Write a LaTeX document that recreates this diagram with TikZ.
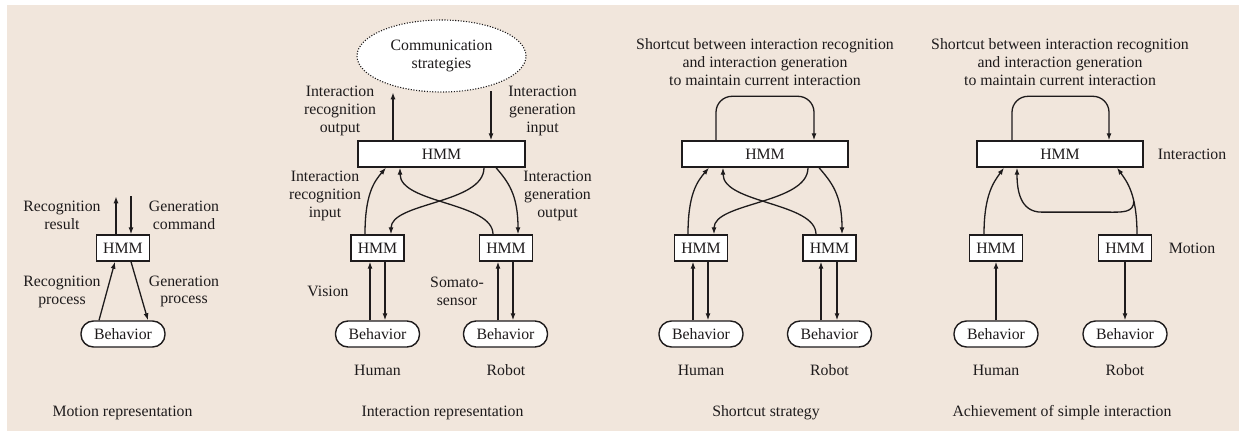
\documentclass[tikz,border=0pt]{standalone}
\usepackage{fontspec}
\setmainfont{Liberation Serif}
\usetikzlibrary{calc,arrows.meta,shapes.geometric}
\definecolor{bgc}{RGB}{241,230,220}
\definecolor{ink}{RGB}{30,27,28}
\begin{document}
\begin{tikzpicture}[x=1pt,y=-1pt,
  every node/.style={text=ink, font=\fontsize{15.8}{17.8}\selectfont},
  box/.style={draw=ink, fill=white, line width=1.4pt, minimum height=26pt, inner sep=0pt},
  hmm/.style={box, minimum width=53pt},
  bighmm/.style={box, minimum width=166pt},
  beh/.style={draw=ink, fill=white, line width=1.4pt, rounded corners=12.5pt, minimum width=84pt, minimum height=26pt, inner sep=0pt},
  lbl/.style={align=center, inner sep=0pt},
  arr/.style={draw=ink, line width=1.3pt, -{Latex[length=7pt,width=5pt]}},
  ln/.style={draw=ink, line width=1.3pt}]
\useasboundingbox (0,0) rectangle (1239,431);
\fill[bgc] (7,5) rectangle (1239,431);

% ---------------- Panel 1: Motion representation
\node[hmm] (h1) at (123,248) {HMM};
\node[beh] (b1) at (123,334) {Behavior};
\coordinate (t1a) at ($(h1.north)+(-7,-38)$);
\coordinate (t1b) at ($(h1.north)+(8,-38)$);
\draw[arr] ($(h1.north)+(-7,0)$) -- (t1a);
\draw[arr] (t1b) -- ($(h1.north)+(8,0)$);
\draw[arr] ($(b1.north)+(-24,0)$) -- ($(h1.south)+(-8,0)$);
\draw[arr] ($(h1.south)+(8,0)$) -- ($(b1.north)+(25,0)$);
\node[lbl] (l1a) at (62,215.5) {Recognition\\result};
\node[lbl] (l1b) at (184,215.5) {Generation\\command};
\node[lbl] (l1c) at (62,292) {Recognition\\process};
\node[lbl] (l1d) at (184,291.5) {Generation\\process};
\node[lbl] (c1) at (122.5,413) {Motion representation};

% ---------------- Panel 2: Interaction representation
\node[ellipse, draw=ink, fill=white, line width=1.1pt, dash pattern=on 1.1pt off 1.6pt,
      minimum width=169pt, minimum height=72pt, inner sep=0pt, align=center]
      (e2) at (441.5,56) {Communication\\strategies};
\node[bighmm, minimum width=167pt] (H2) at (441.5,154) {HMM};
\node[hmm] (hl2) at (377.5,248) {HMM};
\node[hmm] (hr2) at (506,248) {HMM};
\node[beh] (bl2) at (377.5,334) {Behavior};
\node[beh] (br2) at (505.5,334) {Behavior};
\coordinate (o2a) at ($(H2.north)+(-48.5,-48)$);
\coordinate (o2b) at ($(H2.north)+(49.5,-49)$);
\draw[arr] ($(H2.north)+(-48.5,0)$) -- (o2a);
\draw[arr] (o2b) -- ($(H2.north)+(49.5,0)$);
% curves
\draw[arr] ($(hl2.north)+(-12.5,0)$) .. controls +(0,-40) and +(-12,14) .. ($(H2.south)+(-55.5,0)$);
\draw[arr] ($(hr2.north)+(-13,0)$) .. controls +(0,-32) and +(0,36) .. ($(H2.south)+(-41.5,0)$);
\draw[arr] ($(H2.south)+(42.5,0)$) .. controls +(0,36) and +(0,-32) .. ($(hl2.north)+(13.5,0)$);
\draw[arr] ($(H2.south)+(54.5,0)$) .. controls +(12,14) and +(0,-40) .. ($(hr2.north)+(12,0)$);
% verticals
\draw[arr] ($(bl2.north)+(-7.5,0)$) -- ($(hl2.south)+(-7.5,0)$);
\draw[arr] ($(hl2.south)+(7.5,0)$) -- ($(bl2.north)+(7.5,0)$);
\draw[arr] ($(br2.north)+(-7.5,0)$) -- ($(hr2.south)+(-8,0)$);
\draw[arr] ($(hr2.south)+(7,0)$) -- ($(br2.north)+(7.5,0)$);
\node[lbl] (l2a) at (340,111) {Interaction\\recognition\\output};
\node[lbl] (l2b) at (542.5,111) {Interaction\\generation\\input};
\node[lbl] (l2c) at (325,196) {Interaction\\recognition\\input};
\node[lbl] (l2d) at (557.5,196) {Interaction\\generation\\output};
\node[lbl] (l2e) at (328,291) {Vision};
\node[lbl] (l2f) at (457,291) {Somato-\\sensor};
\node[lbl] (l2g) at (377.5,370) {Human};
\node[lbl] (l2h) at (506,370) {Robot};
\node[lbl] (c2) at (442.5,413) {Interaction representation};

% ---------------- Panel 3: Shortcut strategy
\node[lbl] (l3a) at (765,62) {Shortcut between interaction recognition\\and interaction generation\\to maintain current interaction};
\node[bighmm] (H3) at (765,154) {HMM};
\node[hmm] (hl3) at (701,248) {HMM};
\node[hmm] (hr3) at (829.5,248) {HMM};
\node[beh] (bl3) at (701,334) {Behavior};
\node[beh] (br3) at (829.5,334) {Behavior};
\draw[arr, rounded corners=16pt] ($(H3.north)+(-49,0)$) -- ($(H3.north)+(-49,-44)$) -- ($(H3.north)+(49,-44)$) -- ($(H3.north)+(49,0)$);
\draw[arr] ($(hl3.north)+(-13,0)$) .. controls +(0,-40) and +(-12,14) .. ($(H3.south)+(-56,0)$);
\draw[arr] ($(hr3.north)+(-13.5,0)$) .. controls +(0,-32) and +(0,36) .. ($(H3.south)+(-42,0)$);
\draw[arr] ($(H3.south)+(43,0)$) .. controls +(0,36) and +(0,-32) .. ($(hl3.north)+(13,0)$);
\draw[arr] ($(H3.south)+(54,0)$) .. controls +(12,14) and +(0,-40) .. ($(hr3.north)+(12.5,0)$);
\draw[arr] ($(bl3.north)+(-8,0)$) -- ($(hl3.south)+(-8,0)$);
\draw[arr] ($(hl3.south)+(7,0)$) -- ($(bl3.north)+(7,0)$);
\draw[arr] ($(br3.north)+(-8.5,0)$) -- ($(hr3.south)+(-8.5,0)$);
\draw[arr] ($(hr3.south)+(7.5,0)$) -- ($(br3.north)+(7.5,0)$);
\node[lbl] (l3g) at (701,370) {Human};
\node[lbl] (l3h) at (829.5,370) {Robot};
\node[lbl] (c3) at (766,413) {Shortcut strategy};

% ---------------- Panel 4: Achievement of simple interaction
\node[lbl] (l4a) at (1060,62) {Shortcut between interaction recognition\\and interaction generation\\to maintain current interaction};
\node[bighmm] (H4) at (1060,154) {HMM};
\node[hmm] (hl4) at (996,248) {HMM};
\node[hmm] (hr4) at (1125,248) {HMM};
\node[beh] (bl4) at (996,334) {Behavior};
\node[beh] (br4) at (1125,334) {Behavior};
\draw[arr, rounded corners=16pt] ($(H4.north)+(-48,0)$) -- ($(H4.north)+(-48,-44)$) -- ($(H4.north)+(49,-44)$) -- ($(H4.north)+(49,0)$);
\draw[arr] ($(hl4.north)+(-12,0)$) .. controls +(0,-40) and +(-10,14) .. ($(H4.south)+(-56,0)$);
\draw[arr] ($(hr4.north)+(12,0)$) .. controls +(0,-40) and +(10,14) .. ($(H4.south)+(57,0)$) coordinate[pos=0.35] (j4);
\draw[arr] (j4) .. controls +(0,12) and +(14,0) .. ++(-26,11) -- ++(-66,0) .. controls +(-22,0) and +(0,22) .. ($(H4.south)+(-43,0)$);
\draw[arr] (bl4.north) -- (hl4.south);
\draw[arr] (hr4.south) -- (br4.north);
\node[lbl] (l4b) at (1192,154) {Interaction};
\node[lbl] (l4c) at (1192,248) {Motion};
\node[lbl] (l4g) at (996,370) {Human};
\node[lbl] (l4h) at (1125,370) {Robot};
\node[lbl] (c4) at (1062,413) {Achievement of simple interaction};
\end{tikzpicture}
\end{document}
